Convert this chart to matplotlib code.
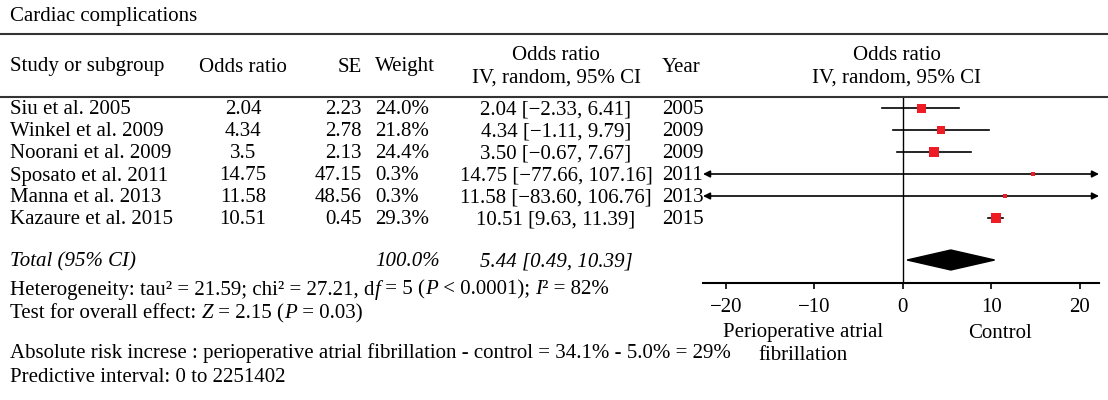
import matplotlib
matplotlib.use('Agg')
import matplotlib.pyplot as plt

plt.rcParams['font.family'] = ['Liberation Serif', 'DejaVu Serif']

# Study data
studies = ['Siu et al. 2005', 'Winkel et al. 2009', 'Noorani et al. 2009',
           'Sposato et al. 2011', 'Manna et al. 2013', 'Kazaure et al. 2015']
odds_ratio_txt = ['2.04', '4.34', '3.5', '14.75', '11.58', '10.51']
odds_ratio = [2.04, 4.34, 3.50, 14.75, 11.58, 10.51]
se = [2.23, 2.78, 2.13, 47.15, 48.56, 0.45]
weights = [24.0, 21.8, 24.4, 0.3, 0.3, 29.3]
ci_low = [-2.33, -1.11, -0.67, -77.66, -83.60, 9.63]
ci_high = [6.41, 9.79, 7.67, 107.16, 106.76, 11.39]
years = [2005, 2009, 2009, 2011, 2013, 2015]

total_weight = 100.0
total_est = 5.44
total_low = 0.49
total_high = 10.39

xticks = [-20, -10, 0, 10, 20]
XMIN, XMAX = -22.6, 22.2

FS = 15
RED = '#ee1c24'
LINE = '#333333'
DY = 2  # text sits a bit lower than its bbox centre

W, H = 1108, 400
fig = plt.figure(figsize=(W / 100, H / 100), dpi=100)

# background axes in pixel coordinates
bg = fig.add_axes([0, 0, 1, 1])
bg.set_xlim(0, W)
bg.set_ylim(H, 0)
bg.axis('off')


def fmt(v):
    return f"{v:.2f}".replace('-', '\u2212')


def txt(x, y, s, **kw):
    return bg.text(x, y + DY, s, fontsize=FS, va='center', **kw)


def rich_text(x, y, parts):
    # draw text pieces one after the other, (text, style) pairs
    t = txt(x, y, parts[0][0], style=parts[0][1])
    for s, st in parts[1:]:
        t = bg.annotate(s, xy=(1, 0), xycoords=t, fontsize=FS, style=st,
                        va='bottom', ha='left')
    return t


txt(10, 14, 'Cardiac complications')
bg.plot([0, W], [34, 34], color=LINE, lw=1.5)
bg.plot([0, W], [97, 97], color=LINE, lw=1.5)

# header
txt(10, 65, 'Study or subgroup')
txt(243, 65, 'Odds ratio', ha='center')
txt(362, 65, 'SE', ha='right')
txt(375, 65, 'Weight')
txt(556, 53, 'Odds ratio', ha='center')
txt(556, 76, 'IV, random, 95% CI', ha='center')
txt(681, 65, 'Year', ha='center')
txt(897, 53, 'Odds ratio', ha='center')
txt(897, 76, 'IV, random, 95% CI', ha='center')

row_y = [108 + 22 * i for i in range(len(studies))]
total_y = 260

for i, name in enumerate(studies):
    y = row_y[i]
    txt(10, y, name)
    txt(243, y, odds_ratio_txt[i], ha='center')
    txt(362, y, f"{se[i]:.2f}", ha='right')
    txt(375, y, f"{weights[i]:.1f}%")
    txt(556, y, f"{fmt(odds_ratio[i])} [{fmt(ci_low[i])}, {fmt(ci_high[i])}]", ha='center')
    txt(662, y, str(years[i]))

txt(10, total_y, 'Total (95% CI)', style='italic')
txt(375, total_y, f"{total_weight:.1f}%", style='italic')
txt(556, total_y, f"{fmt(total_est)} [{fmt(total_low)}, {fmt(total_high)}]",
    ha='center', style='italic')

rich_text(10, 288, [('Heterogeneity: tau\u00b2 = 21.59; chi\u00b2 = 27.21, d', 'normal'),
                    ('f', 'italic'), (' = 5 (', 'normal'), ('P', 'italic'),
                    (' < 0.0001); ', 'normal'), ('I', 'italic'), ('\u00b2 = 82%', 'normal')])
rich_text(10, 312, [('Test for overall effect: ', 'normal'), ('Z', 'italic'),
                    (' = 2.15 (', 'normal'), ('P', 'italic'), (' = 0.03)', 'normal')])
txt(10, 351, 'Absolute risk increse : perioperative atrial fibrillation - control = 34.1% - 5.0% = 29%')
txt(10, 375, 'Predictive interval: 0 to 2251402')

# forest plot axes
left, right, top, bottom = 703, 1099, 98, 283
ax = fig.add_axes([left / W, (H - bottom) / H, (right - left) / W, (bottom - top) / H])
ax.set_xlim(XMIN, XMAX)
ax.set_ylim(bottom, top)
ax.patch.set_alpha(0)
for s in ['top', 'left', 'right']:
    ax.spines[s].set_visible(False)
ax.spines['bottom'].set_linewidth(1.5)
ax.set_yticks([])
ax.set_xticks(xticks)
ax.tick_params(axis='x', direction='out', length=4, width=1.2, labelsize=FS, pad=7)
ax.axvline(0, color='black', lw=1)

for i in range(len(studies)):
    y = row_y[i]
    lo, hi = ci_low[i], ci_high[i]
    if lo < XMIN or hi > XMAX:
        ax.annotate('', xy=(max(lo, XMIN), y), xytext=(min(hi, XMAX), y),
                    arrowprops=dict(arrowstyle='<|-|>', color='black', lw=1.2,
                                    mutation_scale=10, shrinkA=0, shrinkB=0),
                    annotation_clip=False)
    else:
        ax.plot([lo, hi], [y, y], color='black', lw=1.2)
    size_px = 3 + 0.25 * weights[i]
    ax.plot(odds_ratio[i], y, marker='s', color=RED, markersize=size_px * 0.72,
            markeredgewidth=0, zorder=3)

ax.fill([total_low, total_est, total_high, total_est],
        [total_y, total_y - 10, total_y, total_y + 10], color='black', zorder=3)

txt(803, 331, 'Perioperative atrial', ha='center')
txt(803, 354, 'fibrillation', ha='center')
txt(1000, 331, 'Control', ha='center')

fig.savefig('out.png', dpi=100)
